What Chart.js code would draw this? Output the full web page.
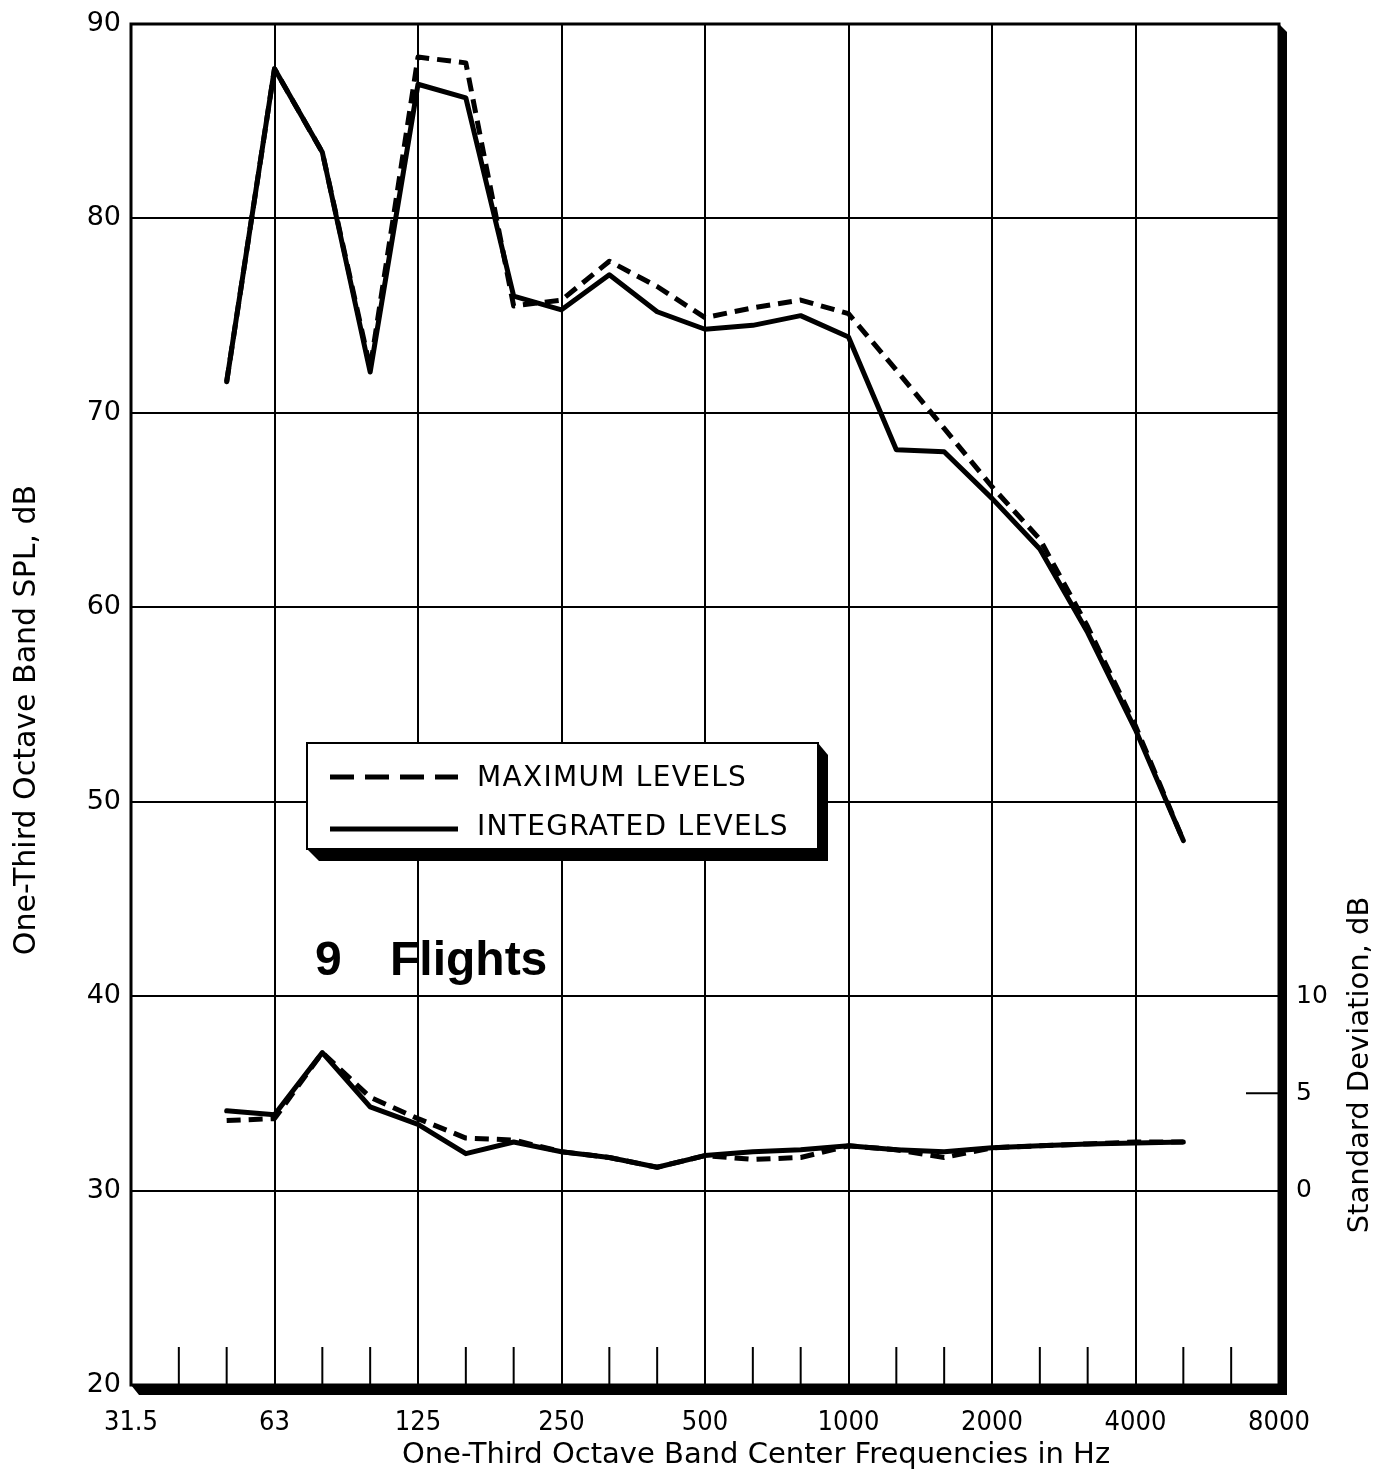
<!DOCTYPE html>
<html>
<head>
<meta charset="utf-8">
<title>One-Third Octave Band SPL - 9 Flights</title>
<script src="https://cdn.jsdelivr.net/npm/chart.js@4.4.1/dist/chart.umd.min.js"></script>
<style>
  html, body { margin: 0; padding: 0; background: #fff; }
  canvas { display: block; }
</style>
</head>
<body>
<canvas id="spl-chart" width="1388" height="1476"></canvas>
<script>
// one-third octave band centres, 31.5 Hz .. 8000 Hz
const bands = ['31.5', '40', '50', '63', '80', '100', '125', '160', '200', '250', '315', '400', '500',
    '630', '800', '1000', '1250', '1600', '2000', '2500', '3150', '4000', '5000', '6300', '8000'];
const octaveLabels = ['31.5', '63', '125', '250', '500', '1000', '2000', '4000', '8000'];

// band SPL, dB (left axis)
const maxLevels = [null, null, 71.6, 87.7, 83.4, 72.3, 88.3, 88.0, 75.5, 75.8, 77.8, 76.5, 74.9,
    75.4, 75.8, 75.1, 72.2, 69.2, 66.2, 63.5, 59.0, 53.9, 48.0, null, null];
const integratedLevels = [null, null, 71.6, 87.7, 83.4, 72.1, 86.9, 86.2, 76.0, 75.3, 77.1, 75.2, 74.3,
    74.5, 75.0, 73.9, 68.1, 68.0, 65.6, 63.0, 58.7, 53.7, 48.0, null, null];

// standard deviation, dB (right axis)
const maxStdDev = [null, null, 3.6, 3.7, 7.1, 4.8, 3.7, 2.7, 2.6, 2.0, 1.7, 1.2, 1.8,
    1.6, 1.7, 2.3, 2.1, 1.7, 2.2, 2.3, 2.4, 2.5, 2.5, null, null];
const integratedStdDev = [null, null, 4.1, 3.9, 7.1, 4.3, 3.4, 1.9, 2.5, 2.0, 1.7, 1.2, 1.8,
    2.0, 2.1, 2.3, 2.1, 2.0, 2.2, 2.3, 2.4, 2.45, 2.5, null, null];

const splTicks = [20, 30, 40, 50, 60, 70, 80, 90];
const stdDevTicks = [0, 5, 10];

const seriesNames = ['MAXIMUM LEVELS', 'INTEGRATED LEVELS'];
const flightCount = '9';
const flightWord = 'Flights';

const FONT = '"DejaVu Sans", Verdana, sans-serif';
const NARROW = '"DejaVu Sans Condensed", "Liberation Sans", sans-serif';
const DASH = [14, 8];

// frame, legend box, annotation and axis titles
const framePlugin = {
    id: 'frame',
    beforeDatasetsDraw(chart) {
        const { ctx, chartArea: a, scales } = chart;
        ctx.save();
        ctx.strokeStyle = '#000';
        ctx.lineWidth = 2;
        // short third-octave marks standing on the bottom edge
        bands.forEach((b, i) => {
            if (octaveLabels.includes(b)) return;
            const px = scales.x.getPixelForValue(i);
            ctx.beginPath();
            ctx.moveTo(px, a.bottom);
            ctx.lineTo(px, a.bottom - 38);
            ctx.stroke();
        });
        // inner tick for the 5 dB standard deviation mark
        const p5 = scales.y2.getPixelForValue(5);
        ctx.beginPath();
        ctx.moveTo(a.right - 33, p5);
        ctx.lineTo(a.right, p5);
        ctx.stroke();
        ctx.restore();
    },
    afterDatasetsDraw(chart) {
        const { ctx, chartArea: a } = chart;
        ctx.save();

        // plot frame with a drop shadow on the right and bottom
        ctx.fillStyle = '#000';
        ctx.beginPath();
        ctx.moveTo(a.right, a.top);
        ctx.lineTo(a.right + 8, a.top + 8);
        ctx.lineTo(a.right + 8, a.bottom + 10);
        ctx.lineTo(a.left + 8, a.bottom + 10);
        ctx.lineTo(a.left, a.bottom);
        ctx.lineTo(a.right, a.bottom);
        ctx.closePath();
        ctx.fill();
        ctx.strokeStyle = '#000';
        ctx.lineWidth = 3;
        ctx.strokeRect(a.left, a.top, a.right - a.left, a.bottom - a.top);

        // legend box
        const lx = 307, ly = 743, lw = 511, lh = 106;
        ctx.beginPath();
        ctx.moveTo(lx + lw, ly);
        ctx.lineTo(lx + lw + 10, ly + 12);
        ctx.lineTo(lx + lw + 10, ly + lh + 12);
        ctx.lineTo(lx + 12, ly + lh + 12);
        ctx.lineTo(lx, ly + lh);
        ctx.closePath();
        ctx.fill();
        ctx.fillStyle = '#fff';
        ctx.fillRect(lx, ly, lw, lh);
        ctx.lineWidth = 2;
        ctx.strokeRect(lx, ly, lw, lh);

        ctx.fillStyle = '#000';
        ctx.font = '28px ' + FONT;
        ctx.letterSpacing = '1.3px';
        ctx.textBaseline = 'alphabetic';
        const rows = [{ y: 777, ty: 786 }, { y: 829, ty: 835 }];
        chart.data.datasets.slice(0, 2).forEach((ds, i) => {
            ctx.lineWidth = 5;
            ctx.setLineDash(ds.borderDash.length ? [24, 11] : []);
            ctx.beginPath();
            ctx.moveTo(330, rows[i].y);
            ctx.lineTo(458, rows[i].y);
            ctx.stroke();
            ctx.setLineDash([]);
            ctx.fillText(ds.label, 477, rows[i].ty);
        });
        ctx.letterSpacing = '0px';

        // annotation
        ctx.font = 'bold 48px "Liberation Sans", Arial, sans-serif';
        ctx.fillText(flightCount, 315, 975);
        ctx.fillText(flightWord, 390, 975);

        // axis titles
        ctx.textAlign = 'center';
        ctx.textBaseline = 'middle';
        ctx.font = '29px ' + FONT;
        ctx.fillText(chart.options.scales.x.title.text, 756, 1455);
        [[chart.options.scales.y.title.text, 27, 720, 30], [chart.options.scales.y2.title.text, 1360, 1065, 29]]
            .forEach(([t, cx, cy, size]) => {
                ctx.save();
                ctx.font = size + 'px ' + FONT;
                ctx.translate(cx, cy);
                ctx.rotate(-Math.PI / 2);
                ctx.fillText(t, 0, 0);
                ctx.restore();
            });
        ctx.restore();
    }
};

const lineStyle = {
    borderColor: '#000',
    backgroundColor: '#000',
    borderWidth: 5,
    pointRadius: 0,
    fill: false,
    tension: 0,
    borderJoinStyle: 'round'
};

// keep the plot top fixed: tick labels must not push the chart area down
function fixVertical(width) {
    return s => {
        s.width = width;
        s.paddingTop = 0;
        s.paddingBottom = 0;
    };
}

new Chart(document.getElementById('spl-chart'), {
    type: 'line',
    data: {
        labels: bands,
        datasets: [
            { ...lineStyle, label: seriesNames[0], data: maxLevels, yAxisID: 'y', borderDash: DASH },
            { ...lineStyle, label: seriesNames[1], data: integratedLevels, yAxisID: 'y', borderDash: [], borderCapStyle: 'round' },
            { ...lineStyle, label: seriesNames[0] + ' SD', data: maxStdDev, yAxisID: 'y2', borderDash: DASH },
            { ...lineStyle, label: seriesNames[1] + ' SD', data: integratedStdDev, yAxisID: 'y2', borderDash: [], borderCapStyle: 'round' }
        ]
    },
    options: {
        responsive: false,
        devicePixelRatio: 1,
        animation: false,
        layout: { padding: { top: 24, left: 0, right: 0, bottom: 0 } },
        plugins: {
            legend: { display: false },
            tooltip: { enabled: false }
        },
        scales: {
            x: {
                type: 'category',
                offset: false,
                afterFit(s) { s.height = 91; },
                border: { display: false },
                title: { display: false, text: 'One-Third Octave Band Center Frequencies in Hz' },
                grid: {
                    drawTicks: false,
                    lineWidth: 2,
                    color: c => (bands[c.index] && octaveLabels.includes(bands[c.index])) ? '#000' : 'rgba(0,0,0,0)'
                },
                ticks: {
                    autoSkip: false,
                    maxRotation: 0,
                    padding: 22,
                    color: '#000',
                    font: { family: NARROW, size: 27 },
                    callback: (v, i) => octaveLabels.includes(bands[i]) ? bands[i] : ''
                }
            },
            y: {
                position: 'left',
                min: 20,
                max: 90,
                afterFit: fixVertical(131),
                afterBuildTicks(s) { s.ticks = splTicks.map(v => ({ value: v })); },
                border: { display: false },
                title: { display: false, text: 'One-Third Octave Band SPL, dB' },
                grid: { drawTicks: false, lineWidth: 2, color: '#000' },
                ticks: { padding: 10, color: '#000', font: { family: FONT, size: 27 } }
            },
            y2: {
                position: 'right',
                min: -10,
                max: 60,
                afterFit: fixVertical(109),
                afterBuildTicks(s) { s.ticks = stdDevTicks.map(v => ({ value: v })); },
                border: { display: false },
                title: { display: false, text: 'Standard Deviation, dB' },
                grid: { drawOnChartArea: false, drawTicks: false },
                ticks: { padding: 17, crossAlign: 'near', color: '#000', font: { family: FONT, size: 25 } }
            }
        }
    },
    plugins: [framePlugin]
});
</script>
</body>
</html>
